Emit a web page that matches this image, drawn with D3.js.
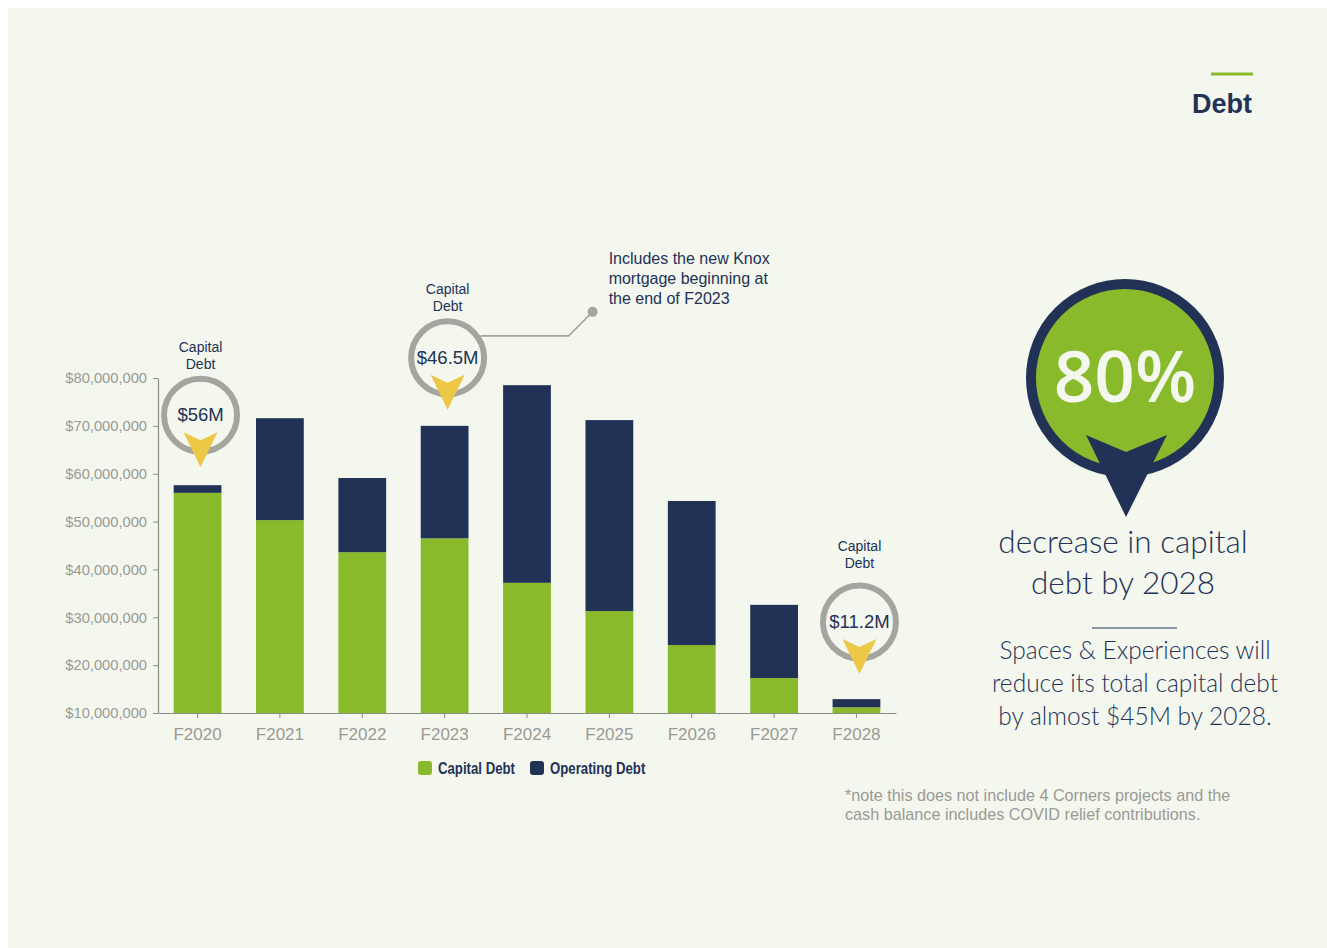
<!DOCTYPE html>
<html>
<head>
<meta charset="utf-8">
<script src="https://cdn.jsdelivr.net/npm/d3@7"></script>
<style>
  html, body { margin: 0; padding: 0; background: #ffffff; }
  svg { display: block; }
</style>
</head>
<body>
<svg id="chart" width="1327" height="948"></svg>
<script>
// Fiscal years shown on the x axis
const years = ["F2020", "F2021", "F2022", "F2023", "F2024", "F2025", "F2026", "F2027", "F2028"];
// Debt balances in millions of dollars
const capitalDebt   = [56.0, 50.3, 43.6, 46.5, 37.2, 31.3, 24.2, 17.3, 11.2];
const operatingDebt = [1.6, 21.3, 15.5, 23.5, 41.3, 39.9, 30.1, 15.3, 1.7];
// Y axis tick values in millions
const yTicks = [10, 20, 30, 40, 50, 60, 70, 80];
// Capital debt call-outs above selected bars
const calloutYears  = ["F2020", "F2023", "F2028"];
const calloutLabels = ["$56M", "$46.5M", "$11.2M"];
const seriesNames = ["Capital Debt", "Operating Debt"];

// layout for the call-outs: height of the ring above its bar, caption offset
const calloutLift = [70, 68, 77];
const captionOffset = [-63, -64, -71];

const NAVY = "#223256";
const GREEN = "#89ba2b";
const GRAY_TXT = "#9a9a95";
const AXIS = "#8c8c87";
const RING = "#a5a5a0";
const YELLOW = "#ecc846";
const BG = "#f4f7ee";

const svg = d3.select("#chart");

// page background with thin white margin
svg.append("rect").attr("x", 8).attr("y", 8).attr("width", 1319).attr("height", 940).attr("fill", BG);

// header
svg.append("line").attr("x1", 1211).attr("x2", 1253).attr("y1", 74).attr("y2", 74)
  .attr("stroke", GREEN).attr("stroke-width", 3);
svg.append("text").attr("x", 1252).attr("y", 113).attr("text-anchor", "end")
  .attr("font-family", "Liberation Sans, Arial, sans-serif").attr("font-weight", "bold")
  .attr("font-size", 27).attr("fill", NAVY).text("Debt");

// data rows for stacking
const rows = years.map((yr, i) => ({
  year: yr,
  capital: capitalDebt[i] * 1e6,
  operating: operatingDebt[i] * 1e6
}));
const stack = d3.stack().keys(["capital", "operating"]);
const layers = stack(rows);

const x = d3.scaleBand().domain(years).range([158, 896]).paddingInner(0.42).paddingOuter(0.19);
const y = d3.scaleLinear().domain([10e6, 80e6]).range([713, 378]).clamp(true);
const color = d3.scaleOrdinal().domain(["capital", "operating"]).range([GREEN, NAVY]);

// bars
const g = svg.append("g");
g.selectAll("g.layer").data(layers).join("g")
  .attr("class", "layer")
  .attr("fill", d => color(d.key))
  .selectAll("rect").data(d => d).join("rect")
  .attr("x", d => x(d.data.year))
  .attr("width", x.bandwidth())
  .attr("y", d => y(d[1]))
  .attr("height", d => y(d[0]) - y(d[1]));

// axes
const yAxis = d3.axisLeft(y)
  .tickValues(yTicks.map(v => v * 1e6))
  .tickFormat(d3.format("$,"))
  .tickSize(5).tickSizeOuter(0).tickPadding(6);
const yg = svg.append("g").attr("transform", "translate(158,0)").call(yAxis);
yg.selectAll("path, line").attr("stroke", AXIS);
yg.selectAll("text").attr("font-family", "Liberation Sans, Arial, sans-serif")
  .attr("font-size", 14.7).attr("fill", GRAY_TXT);

const xAxis = d3.axisBottom(x).tickSize(5).tickSizeOuter(0).tickPadding(10);
const xg = svg.append("g").attr("transform", "translate(0,713)").call(xAxis);
xg.selectAll("path, line").attr("stroke", AXIS);
xg.selectAll("text").attr("font-family", "Liberation Sans, Arial, sans-serif")
  .attr("font-size", 17).attr("fill", GRAY_TXT);
svg.selectAll(".domain").attr("stroke-width", 1.2);

// legend (condensed bold labels)
const legend = svg.append("g").attr("transform", "translate(418,761)");
const legendItems = [{ key: "capital", name: seriesNames[0], dx: 0 }, { key: "operating", name: seriesNames[1], dx: 112 }];
const li = legend.selectAll("g").data(legendItems).join("g").attr("transform", d => `translate(${d.dx},0)`);
li.append("rect").attr("width", 14).attr("height", 14).attr("rx", 3).attr("fill", d => color(d.key));
li.append("text").attr("transform", "translate(20,13) scale(0.8,1)")
  .attr("font-family", "Liberation Sans, Arial, sans-serif")
  .attr("font-weight", "bold").attr("font-size", 16.5).attr("fill", NAVY)
  .text(d => d.name);

// call-outs: ring with value, yellow pointer, "Capital Debt" caption
const totals = rows.map(r => r.capital + r.operating);
const RING_R = 36.5;
const callouts = calloutYears.map((yr, i) => {
  const idx = years.indexOf(yr);
  return {
    year: yr, label: calloutLabels[i], capY: captionOffset[i],
    cx: x(yr) + x.bandwidth() / 2 + 3, cy: y(totals[idx]) - calloutLift[i]
  };
});
const co = svg.selectAll("g.callout").data(callouts).join("g")
  .attr("class", "callout")
  .attr("transform", d => `translate(${d.cx},${d.cy})`);
co.append("circle").attr("r", RING_R).attr("fill", "none").attr("stroke", RING).attr("stroke-width", 6);
co.append("path").attr("d", "M-17,17 L0,25 L17,17 L0,52 Z").attr("fill", YELLOW);
co.append("text").attr("y", 6).attr("text-anchor", "middle")
  .attr("font-family", "Liberation Sans, Arial, sans-serif").attr("font-size", 18.5)
  .attr("fill", NAVY).text(d => d.label);
co.append("text").attr("y", d => d.capY).attr("text-anchor", "middle")
  .attr("font-family", "Liberation Sans, Arial, sans-serif").attr("font-size", 14)
  .attr("fill", NAVY)
  .each(function () {
    const t = d3.select(this);
    t.append("tspan").attr("x", 0).text("Capital");
    t.append("tspan").attr("x", 0).attr("dy", 17).text("Debt");
  });

// leader to the F2023 note
const c23 = callouts[1];
const note = svg.append("g").attr("transform", `translate(${c23.cx},${c23.cy})`);
note.append("path").attr("d", "M33,-22 H121 L145,-46").attr("fill", "none")
  .attr("stroke", RING).attr("stroke-width", 1.6);
note.append("circle").attr("cx", 145).attr("cy", -46).attr("r", 5).attr("fill", RING);
note.append("text").attr("font-family", "Liberation Sans, Arial, sans-serif")
  .attr("font-size", 16).attr("fill", NAVY)
  .selectAll("tspan").data(["Includes the new Knox", "mortgage beginning at", "the end of F2023"]).join("tspan")
  .attr("x", 161).attr("y", (d, i) => -94 + i * 20).text(d => d);

// 80% badge
const badge = svg.append("g").attr("transform", "translate(1125,378)");
badge.append("circle").attr("r", 94).attr("fill", GREEN).attr("stroke", NAVY).attr("stroke-width", 10);
badge.append("path").attr("d", "M-39,57 L1,74 L42,57 L1,139 Z").attr("fill", NAVY);
badge.append("text").attr("y", 24).attr("text-anchor", "middle")
  .attr("font-family", "Open Sans, Liberation Sans, sans-serif").attr("font-weight", 600)
  .attr("font-size", 71).attr("fill", BG).text("80%");

// summary text
const lightFont = "Lato, Open Sans, sans-serif";
svg.append("text").attr("text-anchor", "middle").attr("font-family", lightFont)
  .attr("font-weight", 300).attr("font-size", 31.5).attr("fill", NAVY)
  .selectAll("tspan").data(["decrease in capital", "debt by 2028"]).join("tspan")
  .attr("x", 1123).attr("y", (d, i) => 553 + i * 41).text(d => d);
svg.append("line").attr("x1", 1092).attr("x2", 1177).attr("y1", 628).attr("y2", 628)
  .attr("stroke", NAVY).attr("stroke-width", 1.2);
svg.append("text").attr("text-anchor", "middle").attr("font-family", lightFont)
  .attr("font-weight", 300).attr("font-size", 24.5).attr("fill", NAVY)
  .selectAll("tspan").data(["Spaces & Experiences will", "reduce its total capital debt", "by almost $45M by 2028."]).join("tspan")
  .attr("x", 1135).attr("y", (d, i) => 659 + i * 33).text(d => d);

// footnote
svg.append("text").attr("font-family", "Liberation Sans, Arial, sans-serif")
  .attr("font-size", 16.2).attr("fill", GRAY_TXT)
  .selectAll("tspan").data(["*note this does not include 4 Corners projects and the", "cash balance includes COVID relief contributions."]).join("tspan")
  .attr("x", 845).attr("y", (d, i) => 801 + i * 19).text(d => d);
</script>
</body>
</html>
